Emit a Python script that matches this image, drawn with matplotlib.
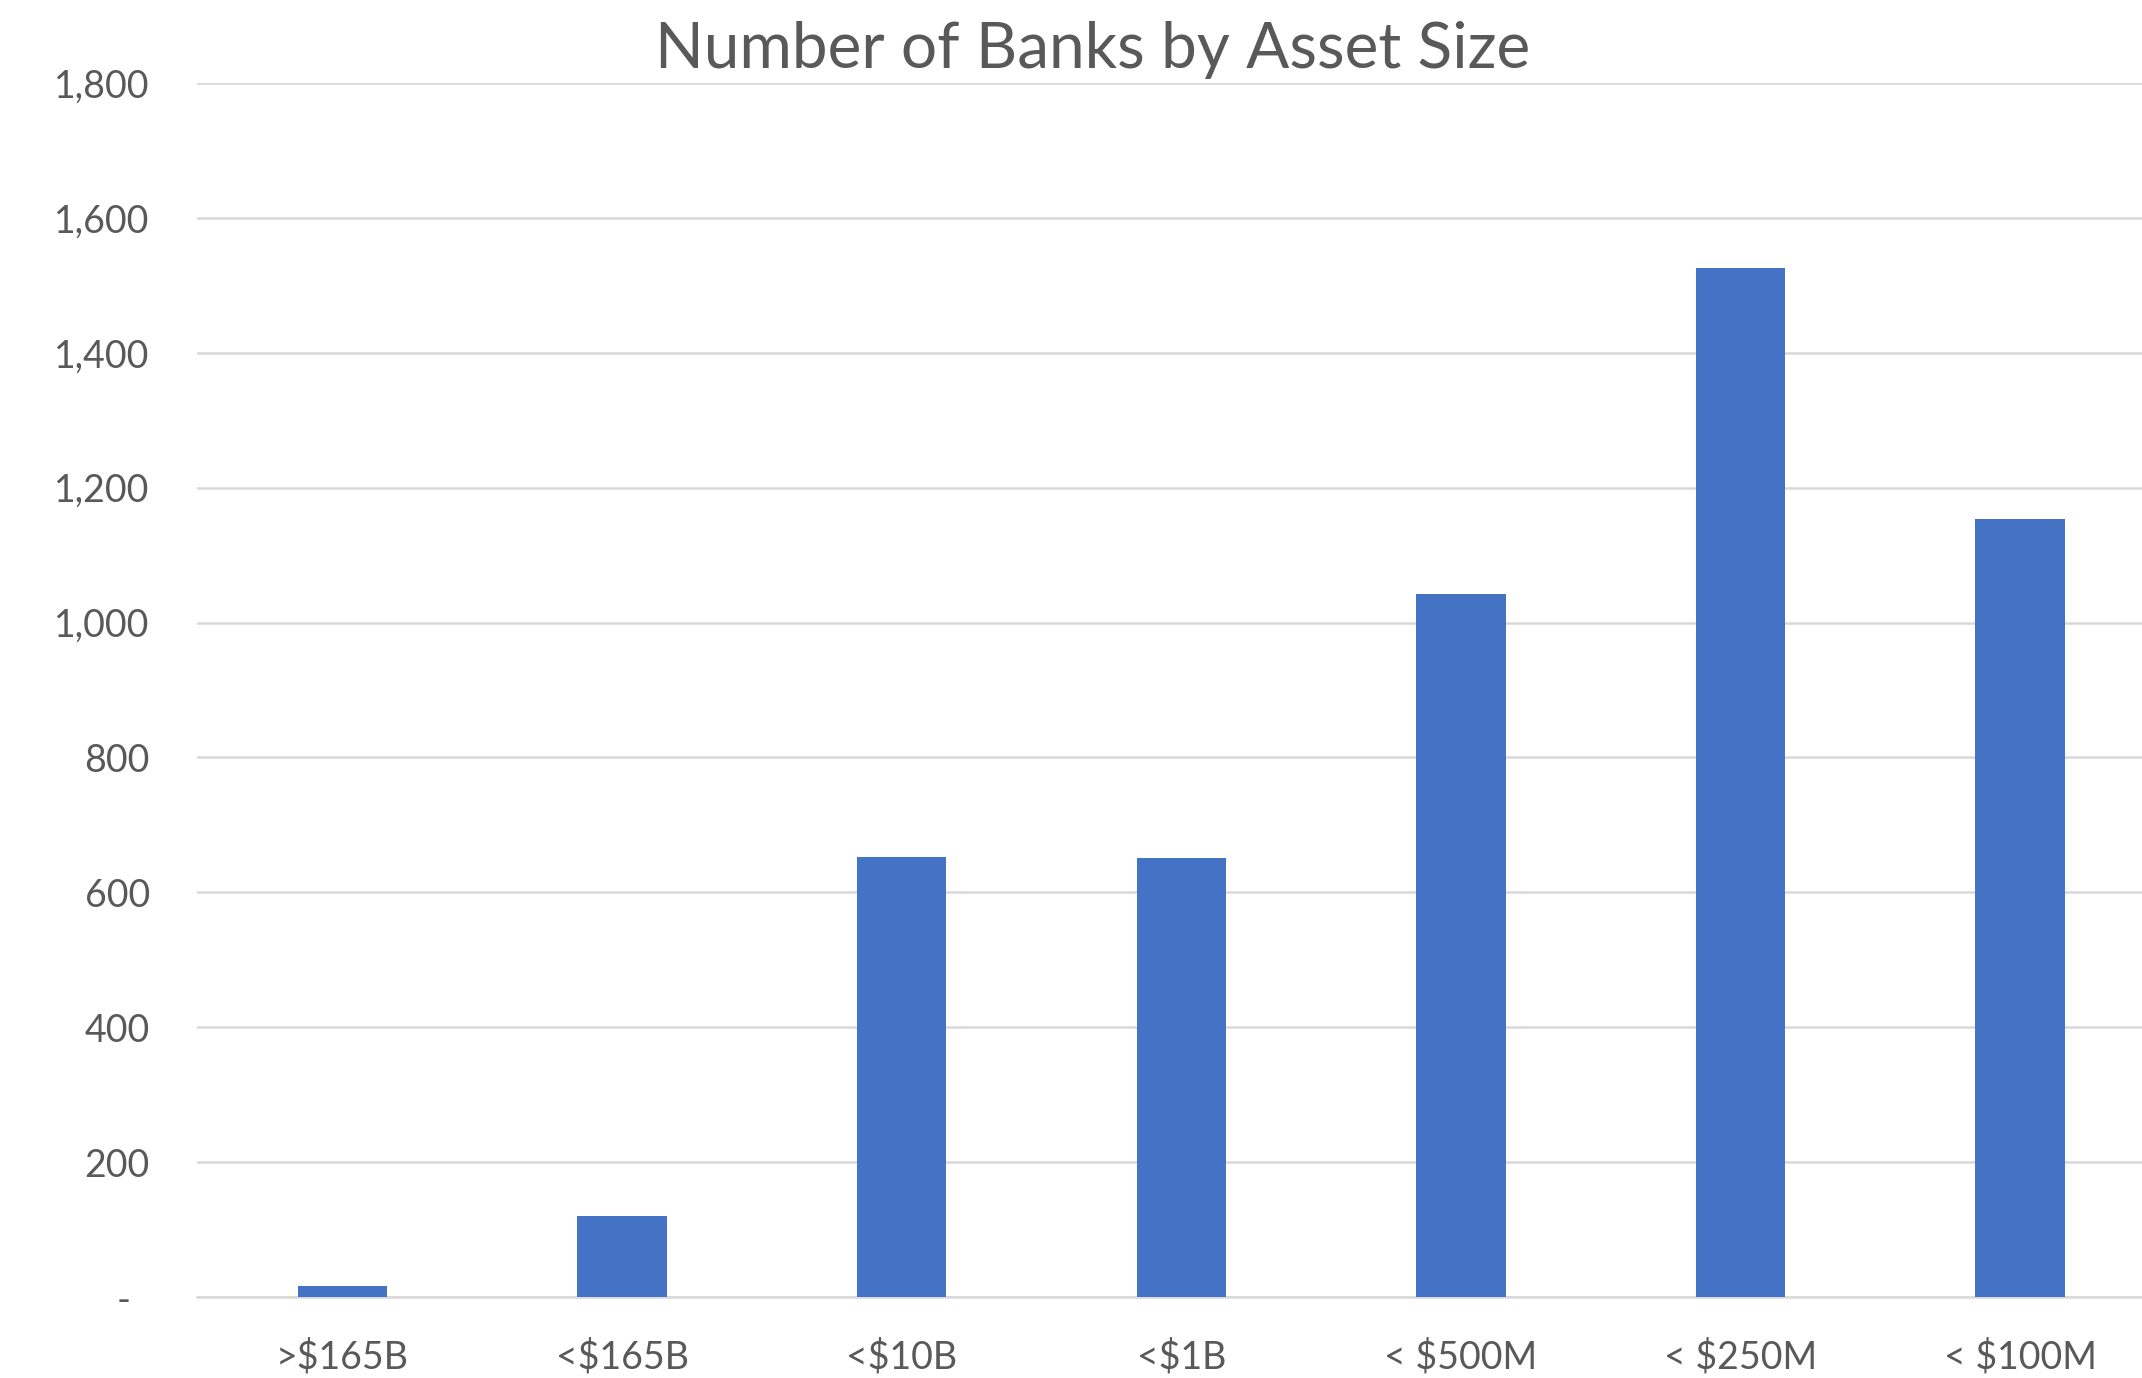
import matplotlib.pyplot as plt
from matplotlib.ticker import FuncFormatter

# bank counts by asset size bucket
categories = ['>$165B', '<$165B', '<$10B', '<$1B', '< $500M', '< $250M', '< $100M']
banks = [17, 120, 652, 651, 1042, 1525, 1153]
yticks = [0, 200, 400, 600, 800, 1000, 1200, 1400, 1600, 1800]

plt.rcParams['font.family'] = ['Lato', 'DejaVu Sans']
text_col = '#595959'

fig = plt.figure(figsize=(21.42, 13.78), dpi=100)
ax = fig.add_axes([197 / 2142, 1 - 1297 / 1378, 1 - 197 / 2142, (1297 - 83) / 1378])

x = list(range(len(categories)))
ax.bar(x, banks, width=0.32, color='#4472C4', zorder=3)

ax.set_xlim(-0.52, 6.436)
ax.set_ylim(0, 1800)
ax.set_yticks(yticks)
# accounting style: zero shown as a dash
ax.yaxis.set_major_formatter(FuncFormatter(lambda v, p: '-  ' if v == 0 else f'{int(v):,}'))
ax.set_xticks(x)
ax.set_xticklabels(categories)

ax.grid(axis='y', color='#D9D9D9', linewidth=1.8, zorder=0)
for s in ['top', 'right', 'left']:
    ax.spines[s].set_visible(False)
ax.spines['bottom'].set_color('#D9D9D9')
ax.spines['bottom'].set_linewidth(1.8)
ax.tick_params(axis='y', length=0, pad=34, labelsize=27, labelcolor=text_col)
ax.tick_params(axis='x', length=0, pad=30, labelsize=27, labelcolor=text_col)

fig.text(1093 / 2142, 1 - 50 / 1378, 'Number of Banks by Asset Size', ha='center', va='center',
         fontsize=46, color=text_col)

plt.savefig('out.png', dpi=100)
